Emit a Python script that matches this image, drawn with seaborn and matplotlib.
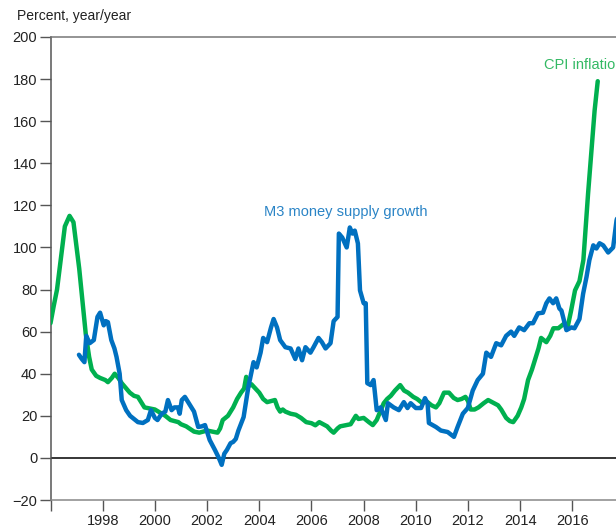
import matplotlib
matplotlib.use("Agg")
import matplotlib.pyplot as plt
import seaborn as sns
import pandas as pd

# CPI inflation (percent, year/year)
cpi_year = [1996.0, 1996.12, 1996.25, 1996.4, 1996.55, 1996.73, 1996.88, 1997.1, 1997.35, 1997.48,
            1997.58, 1997.75, 1997.9, 1998.1, 1998.2, 1998.35, 1998.46, 1998.6, 1998.73, 1998.9,
            1999.04, 1999.2, 1999.35, 1999.5, 1999.6, 1999.8, 2000.0, 2000.2, 2000.4, 2000.6,
            2000.9, 2001.0, 2001.2, 2001.5, 2001.7, 2002.0, 2002.2, 2002.4, 2002.5, 2002.6,
            2002.8, 2003.0, 2003.15, 2003.3, 2003.42, 2003.5, 2003.58, 2003.7, 2003.85, 2004.0,
            2004.15, 2004.3, 2004.45, 2004.6, 2004.7, 2004.8, 2004.9, 2005.0, 2005.2, 2005.4,
            2005.6, 2005.8, 2006.0, 2006.15, 2006.3, 2006.45, 2006.6, 2006.75, 2006.85, 2007.0,
            2007.1, 2007.3, 2007.5, 2007.6, 2007.7, 2007.8, 2008.0, 2008.2, 2008.35, 2008.5,
            2008.6, 2008.77, 2008.9, 2009.04, 2009.2, 2009.4, 2009.55, 2009.7, 2009.9, 2010.05,
            2010.2, 2010.45, 2010.6, 2010.77, 2010.9, 2011.08, 2011.27, 2011.45, 2011.6, 2011.75,
            2011.9, 2012.0, 2012.1, 2012.25, 2012.4, 2012.6, 2012.77, 2013.0, 2013.15, 2013.27,
            2013.46, 2013.6, 2013.73, 2013.9, 2014.04, 2014.15, 2014.3, 2014.45, 2014.55, 2014.7,
            2014.8, 2014.9, 2015.0, 2015.15, 2015.27, 2015.46, 2015.6, 2015.7, 2015.83, 2015.95,
            2016.1, 2016.27, 2016.42, 2016.6, 2016.85, 2016.97]
cpi_val = [64, 72, 80, 95, 110, 115, 112, 90, 59, 48,
           42, 39, 38, 37, 36, 38, 40, 38, 35.5, 33,
           31, 29.5, 29, 26, 24, 23.5, 23, 21.5, 20, 18,
           17, 16, 15, 12.5, 12, 13, 12.5, 12, 14, 18,
           20, 24, 28, 31, 33, 38.5, 34, 35, 33, 31,
           28, 26.5, 27, 27.5, 24, 22, 23, 22, 21, 20.5,
           19, 17, 16.5, 15.5, 17, 16, 15, 13, 12, 14,
           15, 15.5, 16, 18, 20, 18.5, 19, 17, 15.6, 18,
           21, 26, 28, 29.5, 32, 34.6, 32, 31, 29, 28,
           26.5, 26.5, 25, 24, 26, 31, 31, 28.5, 27.5, 28,
           29, 27, 23, 23, 24, 26, 27.5, 26, 25, 23,
           19, 17.5, 17, 20, 24, 28, 37, 42, 46, 52,
           57, 56, 55, 58, 61.6, 61.6, 63, 64, 63, 70,
           79.6, 84, 94, 125.6, 165, 179]

# M3 money supply growth (percent, year/year)
m3_year = [1997.09, 1997.2, 1997.3, 1997.37, 1997.5, 1997.66, 1997.8, 1997.9, 1998.04, 1998.12,
           1998.2, 1998.33, 1998.45, 1998.53, 1998.65, 1998.73, 1998.9, 1999.05, 1999.15, 1999.35,
           1999.54, 1999.73, 1999.85, 2000.0, 2000.1, 2000.26, 2000.4, 2000.5, 2000.64, 2000.75,
           2000.88, 2000.95, 2001.03, 2001.15, 2001.25, 2001.4, 2001.5, 2001.66, 2001.8, 2001.92,
           2002.1, 2002.3, 2002.45, 2002.56, 2002.66, 2002.76, 2002.9, 2003.0, 2003.1, 2003.2,
           2003.4, 2003.58, 2003.78, 2003.9, 2004.05, 2004.15, 2004.3, 2004.45, 2004.55, 2004.68,
           2004.8, 2005.0, 2005.2, 2005.38, 2005.5, 2005.64, 2005.77, 2005.96, 2006.08, 2006.27,
           2006.4, 2006.54, 2006.73, 2006.85, 2007.0, 2007.05, 2007.18, 2007.35, 2007.47, 2007.57,
           2007.66, 2007.78, 2007.86, 2008.0, 2008.08, 2008.14, 2008.27, 2008.38, 2008.5, 2008.65,
           2008.85, 2008.93, 2009.15, 2009.35, 2009.54, 2009.68, 2009.8, 2010.0, 2010.2, 2010.35,
           2010.45, 2010.5, 2010.77, 2010.96, 2011.22, 2011.46, 2011.6, 2011.8, 2011.99, 2012.18,
           2012.37, 2012.57, 2012.7, 2012.88, 2013.08, 2013.27, 2013.46, 2013.65, 2013.77, 2013.96,
           2014.15, 2014.35, 2014.49, 2014.68, 2014.87, 2015.0, 2015.12, 2015.26, 2015.38, 2015.5,
           2015.58, 2015.77, 2015.96, 2016.08, 2016.27, 2016.41, 2016.54, 2016.65, 2016.8, 2016.92,
           2017.04, 2017.18, 2017.37, 2017.56, 2017.69, 2017.8]
m3_val = [49, 47, 45.5, 58, 54.5, 56, 67, 69, 63, 65,
          64.5, 56, 52, 48, 40, 27.5, 22.7, 20, 19, 17,
          16.6, 18, 22.7, 19, 18, 21, 22, 27.5, 22.7, 24,
          24, 21, 27.5, 29, 27, 24, 22, 14.7, 15, 15.6,
          8.5, 3.8, 0, -3.3, 2, 3.8, 7, 7.6, 9, 13,
          19.4, 33.6, 45.5, 43, 50, 57, 55, 62, 66, 62,
          56, 52.6, 52, 47, 52, 46.4, 52.6, 50, 52.6, 57,
          55, 52, 54.5, 65, 67, 106.6, 104.7, 100, 109.5, 106.6,
          108, 101.9, 79.6, 73.5, 73.5, 35.5, 34.6, 37, 22.7, 24,
          18, 26, 24, 22.7, 26.5, 23.7, 26, 23.7, 23.7, 28.4,
          26, 16.6, 14.7, 13, 12.3, 10, 14.7, 21, 23.7, 32,
          37, 40, 50, 48, 54.5, 53.5, 58, 60, 58, 62,
          60.7, 64, 64, 68.7, 69, 73.5, 75.8, 73.5, 75.8, 71,
          70, 60.7, 62, 61.6, 66, 78, 86, 94, 101, 99.5,
          102, 101, 97.6, 100, 112.8, 118]

x_ticks = [1996, 1998, 2000, 2002, 2004, 2006, 2008, 2010, 2012, 2014, 2016]
x_labels = ["", "1998", "2000", "2002", "2004", "2006", "2008", "2010", "2012", "2014", "2016"]
y_ticks = [-20, 0, 20, 40, 60, 80, 100, 120, 140, 160, 180, 200]

cpi_df = pd.DataFrame({"year": cpi_year, "value": cpi_val})
m3_df = pd.DataFrame({"year": m3_year, "value": m3_val})

sns.set_style("ticks")
plt.rcParams["font.family"] = ["Liberation Sans", "DejaVu Sans"]

green = "#00b04f"
blue = "#0070c0"

fig = plt.figure(figsize=(6.16, 5.27), dpi=100)
ax = fig.add_axes([50.5 / 616, 27 / 527, 1 - 50.5 / 616, 463 / 527])

ax.axhline(0, color="black", lw=1.1, zorder=1)
sns.lineplot(data=cpi_df, x="year", y="value", color=green, lw=3.2, sort=False, ax=ax, zorder=3)
sns.lineplot(data=m3_df, x="year", y="value", color=blue, lw=3.2, sort=False, ax=ax, zorder=4)

ax.set_xlim(1996, 2017.67)
ax.set_ylim(-20, 200)
ax.set_xticks(x_ticks)
ax.set_xticklabels(x_labels)
ax.set_yticks(y_ticks)
ax.set_xlabel("")
ax.set_ylabel("")
ax.tick_params(axis="both", direction="out", length=8, width=1, color="#555555",
               labelsize=10.5, labelcolor="#222222")
ax.tick_params(axis="x", pad=2)
ax.tick_params(axis="y", pad=1.5)

ax.spines["right"].set_visible(False)
ax.spines["left"].set_color("#555555")
ax.spines["top"].set_color("#777777")
ax.spines["bottom"].set_color("#888888")
for s in ["left", "top", "bottom"]:
    ax.spines[s].set_linewidth(1.1)

ax.text(2007.32, 116.8, "M3 money supply growth", color="#2a84c6", fontsize=10.5,
        ha="center", va="center")
ax.text(2014.91, 186.6, "CPI inflation", color="#33b964", fontsize=10.5,
        ha="left", va="center", clip_on=False)

fig.text(17 / 616, 1 - 16 / 527, "Percent, year/year", fontsize=10, color="#222222",
         ha="left", va="center")

fig.savefig("out.png", dpi=100)
